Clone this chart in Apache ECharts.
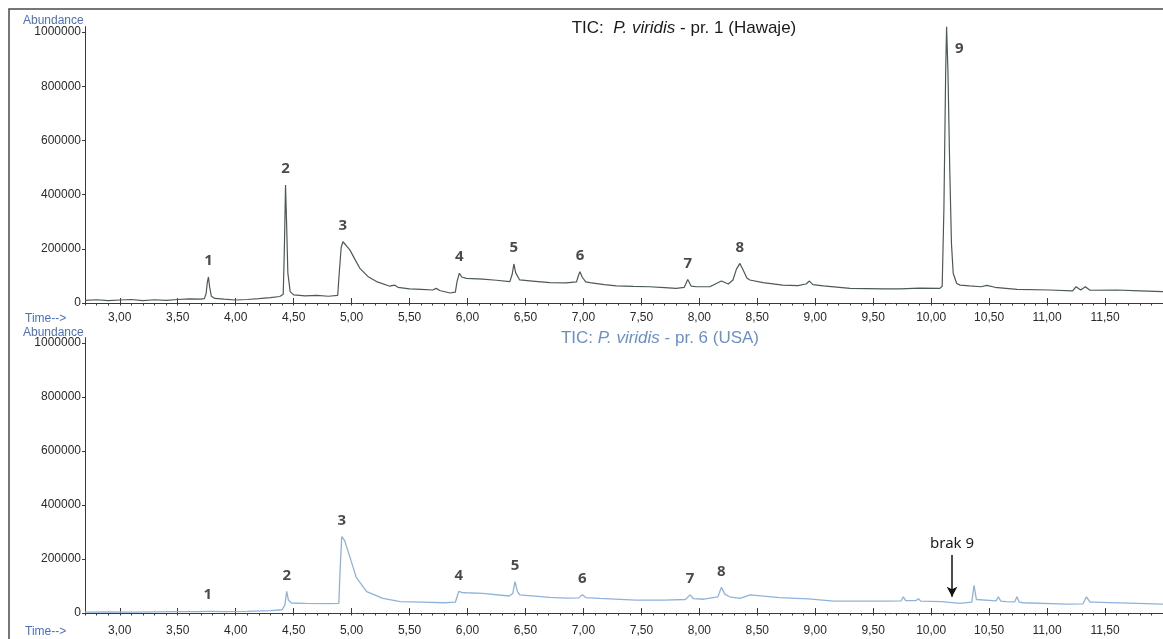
<!DOCTYPE html>
<html>
<head>
<meta charset="utf-8">
<script src="https://cdn.jsdelivr.net/npm/echarts@6/dist/echarts.min.js"></script>
<style>
html,body{margin:0;padding:0;background:#fff}
#chart{width:1163px;height:639px}
</style>
</head>
<body>
<div id="chart"></div>
<script>
// tick labels
var timeLabels = [3.0, 3.5, 4.0, 4.5, 5.0, 5.5, 6.0, 6.5, 7.0, 7.5, 8.0, 8.5, 9.0, 9.5, 10.0, 10.5, 11.0, 11.5];
var abundTicks = [0, 200000, 400000, 600000, 800000, 1000000];

// TIC pr. 1 (Hawaje)
var topTime = [2.70, 2.80, 2.90, 3.00, 3.10, 3.20, 3.30, 3.40, 3.50, 3.60, 3.70, 3.73, 3.745, 3.755, 3.765, 3.775, 3.79, 3.82, 3.90, 4.00,
  4.10, 4.20, 4.30, 4.38, 4.41, 4.42, 4.43, 4.44, 4.45, 4.47, 4.50, 4.60, 4.70, 4.80, 4.88, 4.895, 4.91, 4.925, 4.95, 4.985,
  5.03, 5.07, 5.14, 5.215, 5.33, 5.37, 5.40, 5.50, 5.60, 5.70, 5.73, 5.76, 5.85, 5.895, 5.91, 5.93, 5.95, 5.99, 6.13, 6.25,
  6.365, 6.385, 6.40, 6.415, 6.45, 6.56, 6.71, 6.85, 6.94, 6.96, 6.97, 6.99, 7.02, 7.055, 7.18, 7.285, 7.43, 7.57, 7.70, 7.80,
  7.87, 7.90, 7.93, 7.975, 8.09, 8.19, 8.25, 8.29, 8.32, 8.35, 8.38, 8.41, 8.435, 8.55, 8.72, 8.85, 8.92, 8.95, 8.98, 9.07,
  9.30, 9.59, 9.73, 9.90, 10.075, 10.095, 10.11, 10.125, 10.133, 10.145, 10.16, 10.175, 10.19, 10.22, 10.25, 10.33, 10.43, 10.48, 10.55, 10.74,
  11.02, 11.22, 11.25, 11.29, 11.33, 11.37, 11.60, 11.80, 12.00];
var topAbund = [10000, 12000, 9000, 11000, 13000, 9000, 12000, 10000, 13000, 15000, 14000, 16000, 35000, 75000, 96000, 60000, 25000, 17000, 14000, 11000,
  13000, 16000, 20000, 24000, 32000, 200000, 435000, 280000, 110000, 42000, 30000, 26000, 28000, 25000, 28000, 120000, 205000, 226000, 214000, 196000,
  160000, 129000, 98000, 79000, 62000, 66000, 58000, 52000, 50000, 48000, 54000, 46000, 37000, 40000, 80000, 110000, 96000, 91000, 88000, 84000,
  79000, 105000, 144000, 112000, 85000, 81000, 75000, 74000, 78000, 105000, 115000, 95000, 78000, 75000, 68000, 63000, 61000, 60000, 57000, 54000,
  58000, 87000, 62000, 60000, 60000, 81000, 70000, 85000, 125000, 146000, 120000, 92000, 85000, 75000, 66000, 64000, 70000, 81000, 68000, 63000,
  54000, 52000, 52000, 55000, 54000, 62000, 350000, 850000, 1019000, 850000, 500000, 220000, 110000, 72000, 66000, 63000, 60000, 65000, 58000, 50000,
  48000, 45000, 60000, 48000, 60000, 47000, 48000, 45000, 42000];

// TIC pr. 6 (USA)
var botTime = [2.70, 2.90, 3.10, 3.30, 3.50, 3.70, 3.745, 3.76, 3.775, 3.90, 4.10, 4.30, 4.40, 4.425, 4.44, 4.455, 4.48, 4.60, 4.80, 4.89,
  4.90, 4.915, 4.94, 4.985, 5.04, 5.13, 5.27, 5.42, 5.60, 5.80, 5.895, 5.91, 5.925, 5.95, 5.99, 6.13, 6.36, 6.39, 6.41, 6.43,
  6.45, 6.71, 6.85, 6.96, 6.99, 7.02, 7.14, 7.45, 7.70, 7.88, 7.92, 7.95, 8.04, 8.16, 8.19, 8.22, 8.26, 8.35, 8.44, 8.69,
  8.94, 9.16, 9.62, 9.74, 9.76, 9.78, 9.84, 9.87, 9.89, 9.91, 10.09, 10.245, 10.35, 10.37, 10.39, 10.53, 10.56, 10.58, 10.60, 10.65,
  10.72, 10.74, 10.76, 10.79, 11.17, 11.31, 11.34, 11.37, 11.40, 12.00];
var botAbund = [3000, 4000, 3000, 4500, 5000, 5000, 6000, 9000, 6000, 5000, 6000, 9000, 12000, 30000, 80000, 48000, 37000, 36000, 35000, 36000,
  150000, 283000, 268000, 208000, 132000, 79000, 54000, 42000, 40000, 38000, 40000, 60000, 80000, 76000, 75000, 73000, 63000, 72000, 116000, 80000,
  67000, 58000, 55000, 56000, 68000, 57000, 54000, 48000, 48000, 50000, 67000, 53000, 51000, 60000, 95000, 70000, 60000, 54000, 67000, 57000,
  52000, 44000, 44000, 45000, 60000, 46000, 46000, 46000, 53000, 44000, 42000, 36000, 40000, 102000, 50000, 46000, 45000, 60000, 44000, 42000,
  41000, 60000, 40000, 38000, 33000, 34000, 60000, 40000, 40000, 33000];

// numbered peaks
var topPeakNames = ['1', '2', '3', '4', '5', '6', '7', '8', '9'];
var topPeakTime = [3.765, 4.43, 4.925, 5.93, 6.40, 6.97, 7.90, 8.35, 10.133];
var topPeakAbund = [96000, 435000, 226000, 110000, 144000, 115000, 87000, 146000, 1019000];
var botPeakNames = ['1', '2', '3', '4', '5', '6', '7', '8'];
var botPeakTime = [3.76, 4.44, 4.915, 5.925, 6.41, 6.99, 7.92, 8.19];
var botPeakAbund = [9000, 80000, 283000, 80000, 116000, 68000, 67000, 95000];
var missingText = 'brak 9';
var missingTime = 10.18;
var missingFrom = 215000;
var missingTo = 60000;

function zip(a, b) {
  var out = [];
  for (var i = 0; i < a.length; i++) out.push([a[i], b[i]]);
  return out;
}

function peakItems(names, t, v) {
  var out = [];
  for (var i = 0; i < names.length; i++) out.push({ name: names[i], value: [t[i], v[i]] });
  return out;
}

var tickFont = { fontFamily: 'Liberation Sans, Arial', fontSize: 12, color: '#2a2a2a' };
var axisColor = '#3a3a3a';

function timeAxes(gridIndex, margin) {
  return [{
    type: 'value', gridIndex: gridIndex, min: 2.7, max: 12.0, interval: 0.1,
    axisLine: { show: true, onZero: false, lineStyle: { color: axisColor, width: 1 } },
    axisTick: { show: true, length: 2.5, lineStyle: { color: axisColor } },
    axisLabel: {
      show: true, margin: margin, customValues: timeLabels,
      formatter: function (v) { return v.toFixed(2).replace('.', ','); },
      fontFamily: tickFont.fontFamily, fontSize: tickFont.fontSize, color: tickFont.color
    },
    splitLine: { show: false }
  }, {
    type: 'value', gridIndex: gridIndex, min: 2.7, max: 12.0,
    axisLine: { show: false },
    axisTick: { show: true, length: 5, customValues: timeLabels, lineStyle: { color: axisColor } },
    axisLabel: { show: false },
    splitLine: { show: false }
  }];
}

function abundAxis(gridIndex) {
  return {
    type: 'value', gridIndex: gridIndex, min: 0, max: 1020000,
    axisLine: { show: true, lineStyle: { color: axisColor, width: 1 } },
    axisTick: { show: true, length: 3, customValues: abundTicks, lineStyle: { color: axisColor } },
    axisLabel: {
      show: true, margin: 4, customValues: abundTicks,
      formatter: function (v) { return String(v); },
      fontFamily: tickFont.fontFamily, fontSize: tickFont.fontSize, color: tickFont.color
    },
    splitLine: { show: false }
  };
}

var peakLabel = { show: true, position: 'top', distance: 8, formatter: '{b}',
  fontFamily: 'Noto Sans', fontSize: 15, fontWeight: 'bold', color: '#1c1c1c' };

var topPeaks = peakItems(topPeakNames, topPeakTime, topPeakAbund);
topPeaks[8].label = { position: 'right', distance: 8, offset: [0, 22] };

var blueText = '#4c6fc2';
var sideFont = 'Liberation Sans, Arial';

var option = {
  backgroundColor: '#ffffff',
  animation: false,
  title: [{
    text: '{n|TIC:  }{i|P. viridis}{n| - pr. 1 (Hawaje)}',
    left: 684, top: 20, textAlign: 'center', padding: 0,
    textStyle: { fontWeight: 'normal', rich: {
      n: { fontFamily: sideFont, fontSize: 17, fontWeight: 'normal', color: '#1a1a1a' },
      i: { fontFamily: sideFont, fontSize: 17, fontWeight: 'normal', color: '#1a1a1a', fontStyle: 'italic' }
    } }
  }, {
    text: '{n|TIC: }{i|P. viridis}{n| - pr. 6 (USA)}',
    left: 660, top: 330, textAlign: 'center', padding: 0,
    textStyle: { fontWeight: 'normal', rich: {
      n: { fontFamily: sideFont, fontSize: 17, fontWeight: 'normal', color: '#6a8fcc' },
      i: { fontFamily: sideFont, fontSize: 17, fontWeight: 'normal', color: '#6a8fcc', fontStyle: 'italic' }
    } }
  }],
  graphic: [
    { type: 'rect', silent: true, shape: { x: 9, y: 9, width: 1300, height: 800 },
      style: { fill: 'none', stroke: '#4a4a4a', lineWidth: 1.5 } },
    { type: 'text', x: 23, y: 21, style: { text: 'Abundance', fontFamily: sideFont, fontSize: 12, fill: blueText, verticalAlign: 'middle' } },
    { type: 'text', x: 25, y: 319, style: { text: 'Time-->', fontFamily: sideFont, fontSize: 12, fill: blueText, verticalAlign: 'middle' } },
    { type: 'text', x: 23, y: 333, style: { text: 'Abundance', fontFamily: sideFont, fontSize: 12, fill: blueText, verticalAlign: 'middle' } },
    { type: 'text', x: 25, y: 632, style: { text: 'Time-->', fontFamily: sideFont, fontSize: 12, fill: blueText, verticalAlign: 'middle' } }
  ],
  grid: [
    { left: 85, right: 0, top: 26.6, height: 276.4 },
    { left: 85, right: 0, top: 337.6, height: 275.4 }
  ],
  xAxis: timeAxes(0, 9).concat(timeAxes(1, 12)),
  yAxis: [abundAxis(0), abundAxis(1)],
  series: [{
    name: 'pr. 1 (Hawaje)', type: 'line', xAxisIndex: 0, yAxisIndex: 0,
    data: zip(topTime, topAbund), showSymbol: false, symbol: 'none',
    lineStyle: { color: '#4d5a52', width: 1.2 }
  }, {
    type: 'scatter', xAxisIndex: 0, yAxisIndex: 0, silent: true,
    symbolSize: 1, itemStyle: { color: 'rgba(0,0,0,0)' },
    label: peakLabel, data: topPeaks
  }, {
    name: 'pr. 6 (USA)', type: 'line', xAxisIndex: 2, yAxisIndex: 1,
    data: zip(botTime, botAbund), showSymbol: false, symbol: 'none',
    lineStyle: { color: '#8fb2dc', width: 1.3 },
    markLine: {
      silent: true, symbol: ['none', 'arrow'], symbolSize: [8, 10],
      lineStyle: { color: '#111', width: 1.5, type: 'solid' },
      label: { show: true, position: 'start', distance: 4, formatter: missingText,
        fontFamily: 'Noto Sans', fontSize: 15, color: '#1c1c1c' },
      data: [[{ coord: [missingTime, missingFrom] }, { coord: [missingTime, missingTo] }]]
    }
  }, {
    type: 'scatter', xAxisIndex: 2, yAxisIndex: 1, silent: true,
    symbolSize: 1, itemStyle: { color: 'rgba(0,0,0,0)' },
    label: peakLabel, data: peakItems(botPeakNames, botPeakTime, botPeakAbund)
  }]
};

var myChart = echarts.init(document.getElementById('chart'));
myChart.setOption(option);
</script>
</body>
</html>
